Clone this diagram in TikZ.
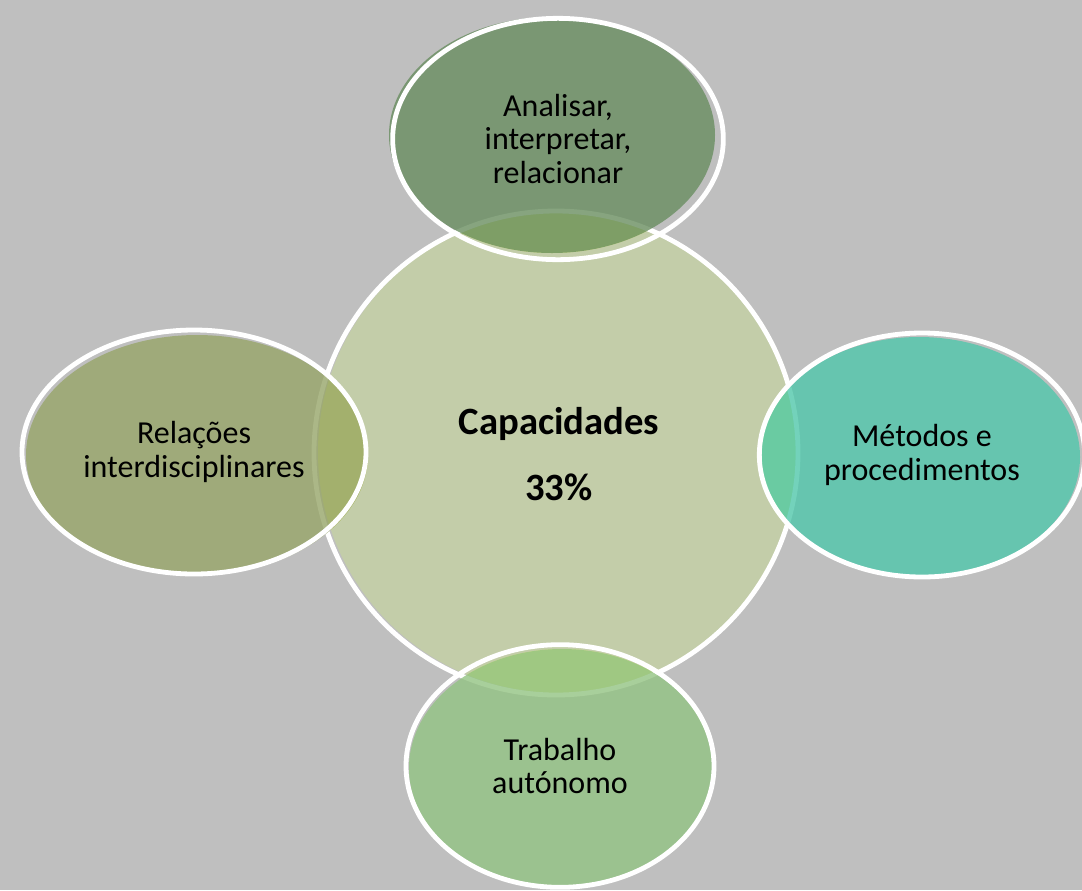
\documentclass[tikz,border=0pt]{standalone}
\usepackage{fontspec}
\setmainfont{Carlito}
\usetikzlibrary{shapes.geometric, positioning}

\definecolor{bgGray}{HTML}{BFBFBF}
\definecolor{coreFill}{HTML}{C3CDA9}
\definecolor{coreUnder}{HTML}{D3DF80}
\definecolor{topFill}{HTML}{698E60}
\definecolor{leftFill}{HTML}{97A569}
\definecolor{rightFill}{HTML}{50C7AB}
\definecolor{bottomFill}{HTML}{93C383}

\tikzset{
  bubble/.style={ellipse, draw=white, line width=3.6pt, align=center,
    inner sep=0pt, font=\fontsize{24}{25}\selectfont},
  core/.style={circle, draw=white, line width=3.6pt, inner sep=0pt,
    minimum size=363pt},
  corelabel/.style={font=\bfseries\fontsize{29}{30}\selectfont},
  tint/.style={fill opacity=0.8}
}

\begin{document}
\begin{tikzpicture}[x=0.75pt, y=-0.75pt]
    % Background
    \fill[bgGray] (0,0) rectangle (1082,890);
    \useasboundingbox (0,0) rectangle (1082,890);

    % Central circle
    \fill[coreFill] (559,452) circle (241);
    \begin{scope}
        \clip (559,452) circle (241);
        \fill[coreUnder] (552,135) ellipse (163 and 118);
        \fill[coreUnder] (197,455) ellipse (171 and 120);
        \fill[coreUnder] (919,457) ellipse (161 and 120);
        \fill[coreUnder] (562,768) ellipse (153 and 119);
    \end{scope}
    \node[core] (core) at (556,453) {};

    % Bubble fills
    \fill[topFill, tint] (552,135) ellipse (163 and 118);
    \fill[leftFill, tint] (197,455) ellipse (171 and 120);
    \fill[rightFill, tint] (919,457) ellipse (161 and 120);
    \fill[bottomFill, tint] (562,768) ellipse (153 and 119);

    % Bubbles
    \node[bubble, minimum width=248pt, minimum height=181pt] (top) at (558,139)
        {Analisar,\\interpretar,\\relacionar};
    \node[bubble, minimum width=258pt, minimum height=183pt] (left) at (194,452)
        {Relações\\interdisciplinares};
    \node[bubble, minimum width=244pt, minimum height=183pt] (right) at (922,455)
        {Métodos e\\procedimentos};
    \node[bubble, minimum width=231pt, minimum height=182pt] (bottom) at (560,766)
        {Trabalho\\autónomo};

    % Labels
    \node[corelabel] (capac) at (559,424) {Capacidades};
    \node[corelabel] (pct) at (559,487) {33\%};
\end{tikzpicture}
\end{document}
